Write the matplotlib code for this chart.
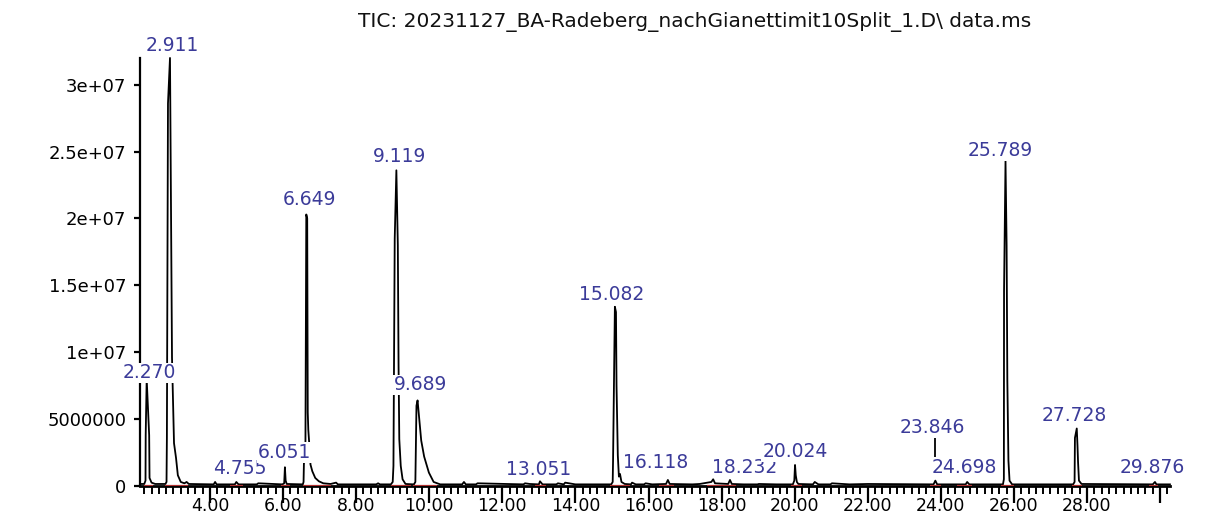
import matplotlib
matplotlib.use("Agg")
import matplotlib.pyplot as plt
from matplotlib.ticker import MultipleLocator
import numpy as np

# TIC trace (time in min, abundance in millions)
rt_min = [2.09, 2.20, 2.235, 2.24, 2.267, 2.335, 2.345, 2.40, 2.50,
          2.78, 2.81, 2.82, 2.85, 2.905, 2.96, 3.015, 3.07, 3.12, 3.20, 3.30, 3.36, 3.42,
          4.10, 4.14, 4.18, 4.68, 4.72, 4.78, 5.28, 5.32, 5.98, 6.03, 6.05, 6.07, 6.10,
          6.54, 6.56, 6.57, 6.61, 6.635, 6.66, 6.675, 6.69, 6.71, 6.75, 6.80, 6.88, 6.98,
          7.10, 7.30, 7.45, 7.50, 8.55, 8.60, 8.65,
          8.95, 9.00, 9.02, 9.055, 9.10, 9.14, 9.16, 9.18, 9.22, 9.27, 9.35,
          9.58, 9.62, 9.65, 9.68, 9.72, 9.78, 9.86, 9.99, 10.12, 10.30,
          10.90, 10.95, 11.00, 11.28, 11.32, 12.58, 12.62, 12.75, 13.00, 13.03, 13.10,
          13.48, 13.52, 13.68, 13.72, 14.00,
          14.98, 15.02, 15.03, 15.08, 15.11, 15.125, 15.16, 15.19, 15.22, 15.26, 15.35,
          15.52, 15.55, 15.65, 15.88, 15.92, 16.10, 16.48, 16.53, 16.58,
          17.20, 17.40, 17.72, 17.77, 17.82, 18.18, 18.23, 18.28, 18.60, 18.98, 19.02, 19.50,
          19.95, 19.99, 20.01, 20.03, 20.06, 20.10, 20.50, 20.55, 20.65, 20.98, 21.02, 21.50,
          22.00, 23.80, 23.85, 23.90, 24.68, 24.72, 24.78,
          25.70, 25.725, 25.73, 25.77, 25.80, 25.82, 25.85, 25.88, 25.95,
          27.62, 27.66, 27.67, 27.72, 27.74, 27.755, 27.78, 27.85,
          29.80, 29.86, 29.90, 30.27]
tic_mio = [0.15, 0.15, 0.40, 3.8, 8.0, 3.8, 0.6, 0.25, 0.15,
           0.15, 0.30, 3.6, 28.6, 32.0, 9.6, 3.2, 2.1, 0.8, 0.3, 0.2, 0.3, 0.15,
           0.12, 0.30, 0.12, 0.12, 0.30, 0.12, 0.12, 0.20, 0.12, 0.20, 1.4, 0.4, 0.15,
           0.12, 0.30, 1.7, 1.9, 20.3, 20.0, 5.5, 4.2, 3.4, 1.6, 1.1, 0.6, 0.35,
           0.20, 0.15, 0.25, 0.12, 0.12, 0.20, 0.12,
           0.12, 0.30, 1.5, 18.5, 23.6, 18.0, 9.0, 3.5, 1.5, 0.5, 0.15,
           0.12, 0.30, 6.0, 6.4, 5.2, 3.4, 2.2, 1.0, 0.3, 0.12,
           0.12, 0.30, 0.12, 0.12, 0.20, 0.12, 0.20, 0.15, 0.12, 0.35, 0.12,
           0.12, 0.20, 0.12, 0.25, 0.12,
           0.12, 0.30, 1.9, 13.4, 13.0, 7.5, 2.3, 0.7, 0.9, 0.3, 0.15,
           0.12, 0.25, 0.12, 0.12, 0.20, 0.12, 0.15, 0.45, 0.15,
           0.12, 0.15, 0.30, 0.50, 0.20, 0.15, 0.45, 0.15, 0.12, 0.12, 0.15, 0.12,
           0.12, 0.40, 1.57, 0.8, 0.3, 0.15, 0.12, 0.30, 0.12, 0.12, 0.20, 0.12,
           0.15, 0.12, 0.40, 0.12, 0.12, 0.30, 0.12,
           0.12, 0.50, 14.6, 24.3, 18.0, 7.9, 1.9, 0.4, 0.12,
           0.12, 0.30, 3.6, 4.3, 3.0, 1.8, 0.4, 0.15,
           0.12, 0.30, 0.12, 0.12]

# integrated peaks (labels as printed) and their integration baselines
peak_labels = ["2.270", "2.911", "4.755", "6.051", "6.649", "9.119", "9.689",
               "13.051", "15.082", "16.118", "18.232", "20.024", "23.846",
               "24.698", "25.789", "27.728", "29.876"]
baseline_start = [2.20, 2.78, 4.55, 5.95, 6.54, 8.95, 9.55, 12.90, 14.95,
                  16.30, 17.60, 19.90, 23.70, 24.45, 25.65, 27.60, 29.70]
baseline_end = [2.45, 3.40, 4.90, 6.20, 7.30, 9.50, 10.20, 13.20, 15.50,
                16.70, 18.40, 20.20, 24.00, 24.85, 26.00, 27.85, 29.95]

y_ticks = [0, 5e6, 1e7, 1.5e7, 2e7, 2.5e7, 3e7]
y_tick_labels = ["0", "5000000", "1e+07", "1.5e+07", "2e+07", "2.5e+07", "3e+07"]
x_ticks = [4, 6, 8, 10, 12, 14, 16, 18, 20, 22, 24, 26, 28, 30]
x_tick_labels = ["4.00", "6.00", "8.00", "10.00", "12.00", "14.00", "16.00",
                 "18.00", "20.00", "22.00", "24.00", "26.00", "28.00", ""]

title = "TIC: 20231127_BA-Radeberg_nachGianettimit10Split_1.D\\ data.ms"

# where the labels sit on the print-out (x in min, y in abundance, ha)
label_pos = [(2.33, 8.45e6, "center"), (2.96, 32.9e6, "center"), (4.82, 1.3e6, "center"),
             (6.05, 2.5e6, "center"), (6.71, 21.4e6, "center"), (9.20, 24.6e6, "center"),
             (9.75, 7.55e6, "center"), (12.98, 1.2e6, "center"), (15.00, 14.3e6, "center"),
             (15.30, 1.75e6, "left"), (19.52, 1.35e6, "right"), (20.01, 2.55e6, "center"),
             (23.76, 4.4e6, "center"), (24.63, 1.35e6, "center"), (25.62, 25.1e6, "center"),
             (27.65, 5.3e6, "center"), (29.78, 1.35e6, "center")]

label_color = "#3b3b99"

fig = plt.figure(figsize=(12.11, 5.17), dpi=100)
ax = fig.add_axes([0.1156, 0.0600, 0.8505, 0.8279])

ax.plot(rt_min, np.array(tic_mio) * 1e6, color="black", lw=1.3, zorder=3, clip_on=False)
ax.hlines(np.zeros(len(baseline_start)), baseline_start, baseline_end,
          color="#b03030", lw=1.6, zorder=4)
# leader line for the 23.846 label
ax.vlines(23.846, 2.1e6, 3.6e6, color="black", lw=1.3)

for txt, (lx, ly, ha) in zip(peak_labels, label_pos):
    ax.text(lx, ly, txt, ha=ha, va="center", fontsize=13.5, color=label_color,
            zorder=5, clip_on=False,
            bbox=dict(boxstyle="square,pad=0.05", facecolor="white", edgecolor="none"))

ax.set_xlim(2.084, 30.27)
ax.set_ylim(0, 3.2e7)

ax.set_xticks(x_ticks)
ax.set_xticklabels(x_tick_labels)
ax.xaxis.set_minor_locator(MultipleLocator(0.2))
ax.set_yticks(y_ticks)
ax.set_yticklabels(y_tick_labels)

ax.tick_params(axis="x", which="major", length=12, width=1.6, direction="out",
               labelsize=12.5, pad=-4, colors="black")
ax.tick_params(axis="x", which="minor", length=6, width=1.4, direction="out")
ax.tick_params(axis="y", which="major", length=4, width=1.6, direction="out",
               labelsize=13, pad=6)

for side in ["top", "right"]:
    ax.spines[side].set_visible(False)
ax.spines["left"].set_linewidth(1.6)
ax.spines["bottom"].set_linewidth(2.0)

fig.text(0.574, 0.957, title, ha="center", va="center", fontsize=14.5, color="#111111")

fig.savefig("out.png", dpi=100)
